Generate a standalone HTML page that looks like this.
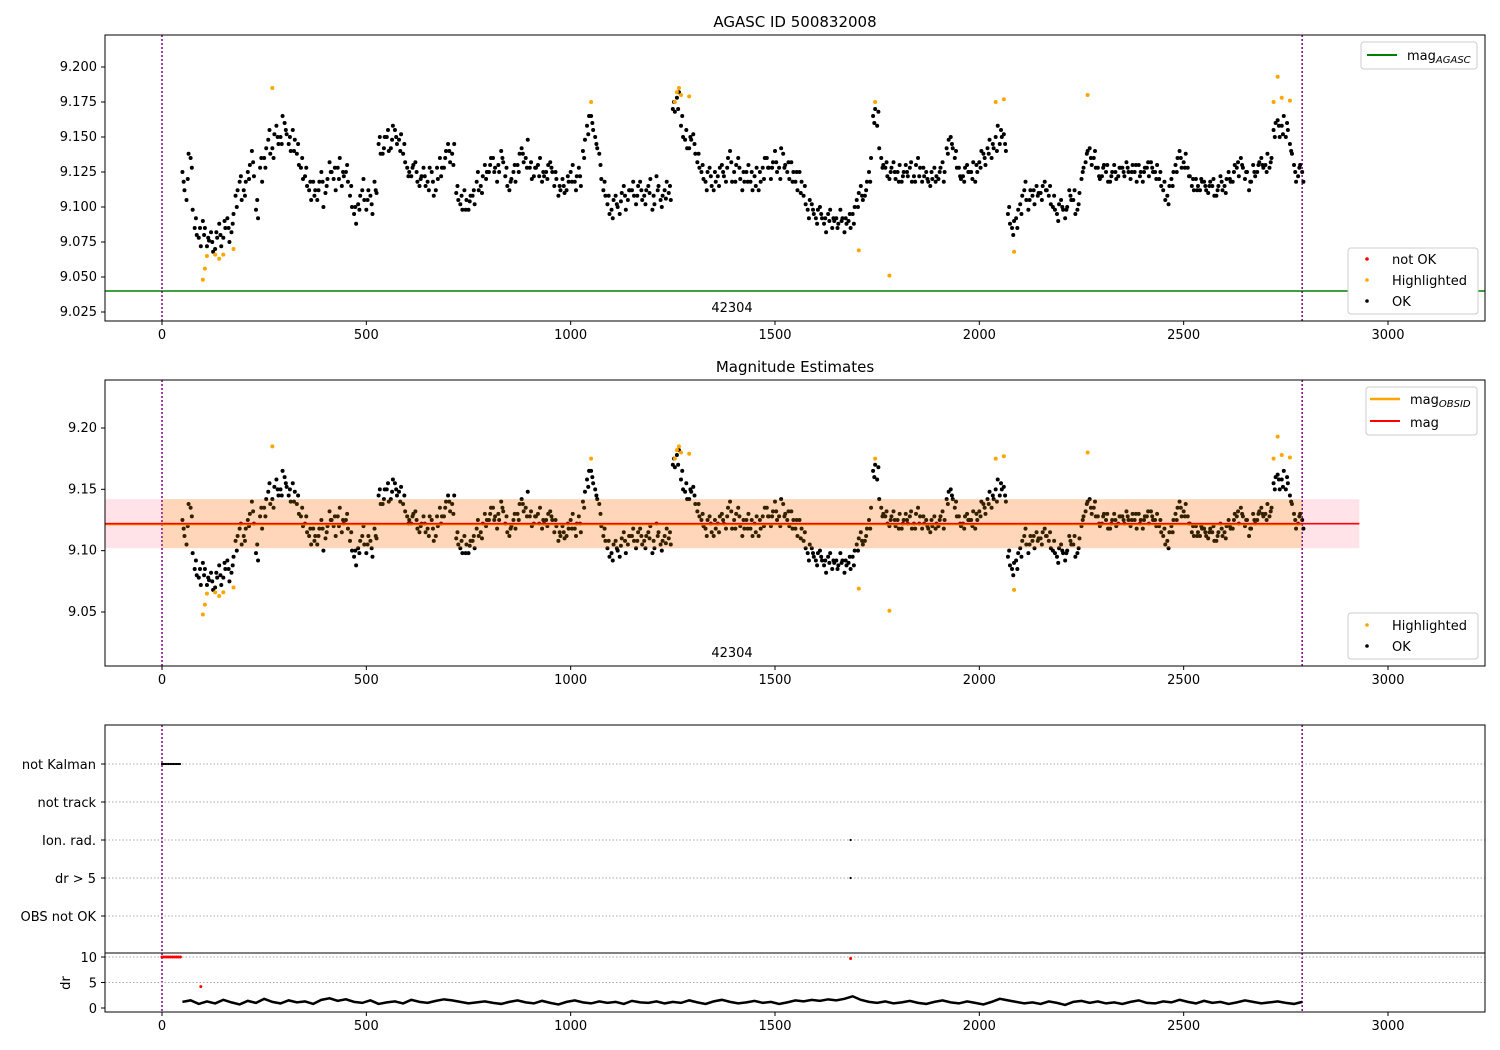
<!DOCTYPE html>
<html><head><meta charset="utf-8"><style>
body{margin:0;background:#fff}
svg{display:block;font-family:"DejaVu Sans","Liberation Sans",sans-serif}
</style></head><body>
<svg id="chart" width="1500" height="1050" xmlns="http://www.w3.org/2000/svg"></svg>
<script>
const startT = 50, stepT = 10;
const magValues = [
9.125,9.105,9.135,9.085,9.078,9.090,9.072,9.082,9.070,9.088,
9.078,9.092,9.082,9.108,9.118,9.112,9.125,9.140,9.098,9.128,
9.135,9.148,9.142,9.158,9.150,9.160,9.145,9.155,9.138,9.128,
9.122,9.112,9.118,9.105,9.125,9.110,9.132,9.120,9.128,9.115,
9.125,9.108,9.095,9.102,9.112,9.098,9.108,9.118,9.145,9.138,
9.150,9.142,9.155,9.148,9.138,9.128,9.122,9.132,9.115,9.128,
9.118,9.125,9.112,9.135,9.128,9.145,9.138,9.110,9.102,9.112,
9.098,9.108,9.118,9.115,9.130,9.125,9.135,9.118,9.140,9.122,
9.112,9.125,9.130,9.142,9.135,9.128,9.122,9.130,9.118,9.125,
9.132,9.115,9.108,9.120,9.112,9.125,9.118,9.128,9.140,9.158,
9.165,9.150,9.138,9.112,9.102,9.098,9.108,9.095,9.115,9.105,
9.112,9.102,9.118,9.108,9.115,9.098,9.122,9.105,9.112,9.110,
9.170,9.178,9.158,9.148,9.142,9.152,9.132,9.125,9.118,9.128,
9.112,9.122,9.130,9.118,9.140,9.125,9.135,9.112,9.125,9.118,
9.122,9.112,9.128,9.135,9.120,9.140,9.128,9.138,9.125,9.132,
9.118,9.125,9.108,9.098,9.102,9.092,9.100,9.088,9.095,9.085,
9.092,9.098,9.082,9.090,9.095,9.105,9.115,9.108,9.125,9.165,
9.158,9.135,9.128,9.120,9.132,9.125,9.118,9.130,9.128,9.122,
9.135,9.118,9.125,9.115,9.128,9.120,9.132,9.142,9.150,9.135,
9.128,9.122,9.130,9.125,9.118,9.132,9.138,9.142,9.135,9.150,
9.145,9.152,9.095,9.085,9.092,9.102,9.112,9.098,9.108,9.115,
9.110,9.118,9.108,9.100,9.095,9.105,9.092,9.112,9.105,9.098,
9.120,9.132,9.142,9.135,9.128,9.122,9.125,9.118,9.130,9.122,
9.128,9.132,9.120,9.125,9.130,9.118,9.128,9.132,9.125,9.120,
9.112,9.108,9.120,9.130,9.140,9.132,9.128,9.115,9.120,9.112,
9.118,9.110,9.115,9.108,9.122,9.115,9.125,9.118,9.128,9.135,
9.120,9.112,9.130,9.125,9.135,9.130,9.128,9.155,9.162,9.158,
9.150,9.145,9.130,9.122,9.125];
const startTB = 55;
const magValuesB = [
9.112,9.138,9.098,9.080,9.072,9.085,9.076,9.068,9.078,9.072,
9.085,9.075,9.095,9.112,9.105,9.118,9.130,9.122,9.092,9.118,
9.142,9.138,9.152,9.145,9.165,9.152,9.140,9.148,9.130,9.120,
9.115,9.105,9.112,9.118,9.100,9.120,9.125,9.112,9.135,9.122,
9.118,9.100,9.088,9.108,9.105,9.112,9.095,9.110,9.138,9.150,
9.140,9.158,9.145,9.152,9.132,9.125,9.130,9.118,9.122,9.115,
9.128,9.108,9.120,9.128,9.140,9.132,9.145,9.105,9.098,9.105,
9.108,9.102,9.112,9.122,9.125,9.135,9.128,9.125,9.132,9.115,
9.120,9.118,9.138,9.132,9.148,9.120,9.128,9.135,9.122,9.130,
9.125,9.120,9.112,9.110,9.118,9.130,9.122,9.115,9.148,9.165,
9.155,9.142,9.120,9.108,9.095,9.105,9.100,9.110,9.098,9.112,
9.108,9.115,9.105,9.112,9.120,9.102,9.115,9.108,9.118,9.105,
9.168,9.182,9.150,9.142,9.148,9.138,9.128,9.120,9.125,9.115,
9.118,9.128,9.122,9.135,9.118,9.130,9.120,9.118,9.130,9.112,
9.128,9.118,9.135,9.128,9.132,9.125,9.142,9.130,9.120,9.125,
9.112,9.118,9.102,9.105,9.095,9.098,9.092,9.082,9.098,9.090,
9.088,9.092,9.088,9.085,9.100,9.110,9.105,9.118,9.135,9.170,
9.142,9.130,9.122,9.128,9.120,9.130,9.125,9.122,9.118,9.130,
9.128,9.122,9.118,9.120,9.122,9.128,9.125,9.148,9.142,9.128,
9.120,9.128,9.125,9.132,9.125,9.140,9.130,9.148,9.142,9.158,
9.150,9.140,9.088,9.090,9.098,9.108,9.105,9.112,9.102,9.110,
9.115,9.112,9.102,9.098,9.102,9.098,9.100,9.105,9.095,9.110,
9.128,9.140,9.130,9.128,9.120,9.130,9.118,9.125,9.120,9.128,
9.122,9.125,9.130,9.118,9.125,9.128,9.122,9.125,9.130,9.115,
9.105,9.115,9.125,9.135,9.128,9.138,9.122,9.112,9.115,9.118,
9.112,9.118,9.108,9.115,9.112,9.120,9.118,9.130,9.122,9.128,
9.125,9.118,9.122,9.132,9.128,9.138,9.135,9.160,9.150,9.165,
9.155,9.138,9.118,9.130];
const magValuesC = [
9.118,9.120,9.128,9.092,9.085,9.080,9.078,9.075,9.082,9.080,
9.090,9.085,9.088,9.100,9.122,9.108,9.120,9.132,9.105,9.135,
9.128,9.155,9.135,9.150,9.145,9.155,9.150,9.140,9.145,9.135,
9.128,9.118,9.108,9.112,9.118,9.115,9.125,9.128,9.120,9.125,
9.130,9.115,9.100,9.098,9.120,9.105,9.102,9.112,9.150,9.142,
9.155,9.148,9.150,9.140,9.145,9.122,9.128,9.125,9.120,9.122,
9.112,9.118,9.128,9.122,9.135,9.140,9.130,9.115,9.108,9.098,
9.104,9.112,9.125,9.110,9.120,9.130,9.125,9.130,9.135,9.128,
9.118,9.130,9.125,9.138,9.128,9.132,9.128,9.122,9.125,9.120,
9.128,9.125,9.115,9.115,9.122,9.118,9.112,9.122,9.135,9.152,
9.160,9.145,9.130,9.118,9.108,9.092,9.102,9.104,9.108,9.112,
9.118,9.108,9.112,9.102,9.110,9.108,9.112,9.100,9.106,9.115,
9.175,9.170,9.165,9.155,9.150,9.145,9.138,9.130,9.112,9.122,
9.125,9.115,9.125,9.128,9.132,9.118,9.128,9.125,9.118,9.125,
9.115,9.125,9.120,9.128,9.128,9.132,9.120,9.128,9.132,9.118,
9.125,9.110,9.115,9.092,9.098,9.088,9.095,9.092,9.090,9.092,
9.085,9.090,9.092,9.095,9.088,9.100,9.108,9.112,9.118,9.160,
9.168,9.128,9.132,9.125,9.125,9.118,9.122,9.125,9.132,9.118,
9.122,9.128,9.120,9.125,9.118,9.125,9.118,9.138,9.145,9.140,
9.122,9.118,9.125,9.120,9.130,9.128,9.135,9.138,9.145,9.140,
9.155,9.145,9.100,9.080,9.085,9.095,9.118,9.105,9.112,9.108,
9.105,9.112,9.115,9.108,9.090,9.100,9.098,9.108,9.112,9.102,
9.125,9.138,9.135,9.140,9.122,9.128,9.130,9.122,9.125,9.128,
9.125,9.128,9.125,9.130,9.122,9.125,9.132,9.128,9.120,9.125,
9.118,9.102,9.115,9.125,9.135,9.128,9.122,9.120,9.112,9.120,
9.115,9.115,9.120,9.112,9.118,9.110,9.120,9.125,9.132,9.130,
9.125,9.118,9.125,9.130,9.130,9.125,9.132,9.150,9.158,9.152,
9.160,9.140,9.125,9.128,9.118];
const hlTimes = [100,105,110,130,140,150,175,270,1050,1255,1260,1265,1270,1290,1705,1745,1780,2040,2060,2085,2265,2720,2730,2740,2760];
const hlMags = [9.048,9.056,9.065,9.066,9.063,9.066,9.070,9.185,9.175,9.175,9.182,9.185,9.180,9.179,9.069,9.175,9.051,9.175,9.177,9.068,9.180,9.175,9.193,9.178,9.176];
const drStart = 50, drStep = 20;
const drValues = [1.2,1.5,0.8,1.3,0.9,1.6,1.1,0.7,1.4,1.0,1.8,1.2,0.9,1.5,1.1,1.3,0.8,1.6,1.9,1.4,1.7,1.2,1.0,1.5,0.8,1.1,1.3,0.9,1.6,1.2,1.0,1.4,1.7,1.5,1.2,0.9,1.1,1.3,1.0,0.8,1.2,1.5,1.1,0.9,1.4,1.0,0.7,1.2,1.5,1.1,0.9,1.3,1.0,1.2,0.8,1.4,1.1,1.0,1.3,0.9,1.2,1.0,1.5,1.1,0.8,1.3,1.6,1.2,0.9,1.1,1.4,1.0,1.2,0.8,1.1,1.5,1.3,1.6,1.4,1.7,1.5,1.8,2.3,1.6,1.2,1.0,1.3,0.9,1.1,1.4,1.0,0.8,1.2,1.5,1.1,0.9,1.3,1.0,0.7,1.2,1.8,1.5,1.2,0.9,1.1,0.8,1.3,1.0,0.6,1.2,1.4,1.0,1.3,0.9,1.1,0.8,1.2,1.5,1.0,0.9,1.3,1.1,1.6,1.2,0.9,1.4,1.0,1.2,0.8,1.1,1.5,1.2,0.9,1.1,1.3,1.0,0.8,1.2];
const drRedTimes = [0,5,10,15,20,25,30,35,40,45,95,1685];
const drRedValues = [10,10,10,10,10,10,10,10,10,10,4.2,9.7];
const flagCategories = ["not Kalman","not track","Ion. rad.","dr > 5","OBS not OK"];
const flagTimes = [0,4,8,12,16,20,24,28,32,36,40,44,1685,1685];
const flagIndex = [0,0,0,0,0,0,0,0,0,0,0,0,2,3];
const xTicks = [0,500,1000,1500,2000,2500,3000];
const y1Ticks = [9.025,9.05,9.075,9.1,9.125,9.15,9.175,9.2];
const y2Ticks = [9.05,9.1,9.15,9.2];
const drTicks = [0,5,10];
const agascMag = 9.04, meanMag = 9.122, magLo = 9.102, magHi = 9.142, obsEnd = 2790, bandEnd = 2930;

const NS="http://www.w3.org/2000/svg", svg=document.getElementById('chart');
function mk(tag,attrs,parent){const e=document.createElementNS(NS,tag);for(const k in attrs)e.setAttribute(k,attrs[k]);(parent||svg).appendChild(e);return e;}
const L=105,R=1485;
const xs=t=>162+t*(1226/3000);
const y1=m=>67+(9.2-m)*1400;
const y2=m=>428+(9.2-m)*(61.33/0.05);
const yd=v=>1008-v*5.1;
const yf=i=>764+i*38;
const txt=(x,y,s,anchor,size,parent)=>{const e=mk('text',{x:x,y:y,'text-anchor':anchor||'middle','font-size':size||13,fill:'#000'},parent);e.textContent=s;return e;};

function xAxis(top,bottom,label){
  xTicks.forEach(t=>{const g=mk('g',{});
    
    mk('line',{x1:xs(t),x2:xs(t),y1:bottom,y2:bottom+4,stroke:'#000'},g);
    if(label)txt(xs(t),bottom+18,String(t),'middle',13,g);});
}
function frame(top,bottom,name){const r=mk('rect',{x:L,y:top,width:R-L,height:bottom-top,fill:'none',stroke:'#000','stroke-width':1});
  }
function vlines(top,bottom){[0,obsEnd].forEach(t=>{const l=mk('line',{x1:xs(t),x2:xs(t),y1:top,y2:bottom,stroke:'#800080','stroke-width':1.5,'stroke-dasharray':'2,2'});
  });}
function dots(ts,ms,yfun,color,r,name){const g=mk('g',{fill:color});
  ts.forEach((t,i)=>mk('circle',{cx:xs(t),cy:yfun(ms[i]),r:r},g));}
const magTimes=magValues.map((v,i)=>startT+i*stepT);
const magTimesB=magValuesB.map((v,i)=>startTB+i*stepT);
const magTimesC=magValuesC.map((v,i)=>startT+3+i*stepT);
function okSeries(yfun,suffix){
  dots(magTimes,magValues,yfun,'#000',2,'ok-points'+suffix);
  dots(magTimesB,magValuesB,yfun,'#000',2,'ok-points-b'+suffix);
  dots(magTimesC,magValuesC,yfun,'#000',2,'ok-points-c'+suffix);
}

// Panel 1
txt(795,27,'AGASC ID 500832008','middle',15);
const gl=mk('line',{x1:L,x2:R,y1:y1(agascMag),y2:y1(agascMag),stroke:'green','stroke-width':1.5});

vlines(35,321);
okSeries(y1,'');
dots(hlTimes,hlMags,y1,'orange',2,'highlighted-points');
frame(35,321,'agasc-axes');
y1Ticks.forEach(v=>{mk('line',{x1:L-4,x2:L,y1:y1(v),y2:y1(v),stroke:'#000'});txt(L-8,y1(v)+4,v.toFixed(3),'end');});
xAxis(35,321,true);
txt(732,312,'42304');
let lg=mk('g',{});
mk('rect',{x:1361,y:42,width:116,height:27,rx:3,fill:'#fff',stroke:'#ccc'},lg);
mk('line',{x1:1367,x2:1397,y1:55,y2:55,stroke:'green','stroke-width':2},lg);
let t=txt(1407,60,'mag','start',13,lg);let ts=mk('tspan',{'font-size':10,'font-style':'italic',dy:3},t);ts.textContent='AGASC';t.appendChild(ts);
lg=mk('g',{});
mk('rect',{x:1348,y:248,width:130,height:66,rx:3,fill:'#fff',stroke:'#ccc'},lg);
[['not OK','red'],['Highlighted','orange'],['OK','#000']].forEach((e,i)=>{mk('circle',{cx:1367,cy:259+i*21,r:1.8,fill:e[1]},lg);txt(1392,264+i*21,e[0],'start',13,lg);});

// Panel 2
txt(795,372,'Magnitude Estimates','middle',15);
const band=mk('rect',{x:L,y:y2(magHi),width:xs(bandEnd)-L,height:y2(magLo)-y2(magHi),fill:'#ffc0cb',opacity:0.45});

vlines(380,666);
okSeries(y2,'-2');
dots(hlTimes,hlMags,y2,'orange',2,'highlighted-points-2');
const band2=mk('rect',{x:xs(0),y:y2(magHi),width:xs(obsEnd)-xs(0),height:y2(magLo)-y2(magHi),fill:'#ffa500',opacity:0.2});

const ol=mk('line',{x1:L,x2:xs(obsEnd),y1:y2(meanMag)+0.5,y2:y2(meanMag)+0.5,stroke:'orange','stroke-width':2.5});

const ml=mk('line',{x1:L,x2:xs(bandEnd),y1:y2(meanMag),y2:y2(meanMag),stroke:'red','stroke-width':1.6});

frame(380,666,'magnitude-axes');
y2Ticks.forEach(v=>{mk('line',{x1:L-4,x2:L,y1:y2(v),y2:y2(v),stroke:'#000'});txt(L-8,y2(v)+4,v.toFixed(2),'end');});
xAxis(380,666,true);
txt(732,657,'42304');
lg=mk('g',{});
mk('rect',{x:1366,y:387,width:111,height:48,rx:3,fill:'#fff',stroke:'#ccc'},lg);
mk('line',{x1:1370,x2:1400,y1:399,y2:399,stroke:'orange','stroke-width':2.5},lg);
t=txt(1410,404,'mag','start',13,lg);ts=mk('tspan',{'font-size':10,'font-style':'italic',dy:3},t);ts.textContent='OBSID';t.appendChild(ts);
mk('line',{x1:1370,x2:1400,y1:421,y2:421,stroke:'red','stroke-width':2},lg);txt(1410,427,'mag','start',13,lg);
lg=mk('g',{});
mk('rect',{x:1348,y:613,width:130,height:46,rx:3,fill:'#fff',stroke:'#ccc'},lg);
[['Highlighted','orange'],['OK','#000']].forEach((e,i)=>{mk('circle',{cx:1367,cy:625+i*21,r:1.8,fill:e[1]},lg);txt(1392,630+i*21,e[0],'start',13,lg);});

// Panel 3 flags
flagCategories.forEach((c,i)=>{mk('line',{x1:L,x2:R,y1:yf(i),y2:yf(i),stroke:'#aaa','stroke-dasharray':'1.5,2'});
  mk('line',{x1:L-4,x2:L,y1:yf(i),y2:yf(i),stroke:'#000'});
  const e=txt(L-9,yf(i)+5,c,'end');});
vlines(725,1012);
const gf=mk('g',{fill:'#000'});
flagTimes.forEach((tt,i)=>mk('circle',{cx:xs(tt),cy:yf(flagIndex[i]),r:1.1},gf));
frame(725,953,'flags-axes');
// Panel 4 dr
[5,10].forEach(v=>mk('line',{x1:L,x2:R,y1:yd(v),y2:yd(v),stroke:'#aaa','stroke-dasharray':'1.5,2'}));
const gd=mk('g',{fill:'#000'});
const drTimes=drValues.map((v,i)=>drStart+i*drStep);
mk('polyline',{points:drTimes.map((tt,i)=>xs(tt)+','+yd(drValues[i])).join(' '),fill:'none',stroke:'#000','stroke-width':2.5},gd);
dots(drRedTimes,drRedValues,yd,'red',1.5,'dr-red-points');
frame(953,1012,'dr-axes');
drTicks.forEach(v=>{mk('line',{x1:L-4,x2:L,y1:yd(v),y2:yd(v),stroke:'#000'});txt(L-8,yd(v)+5,String(v),'end');});
const dl=mk('text',{x:70,y:983,'text-anchor':'middle','font-size':13,transform:'rotate(-90 70 983)'});dl.textContent='dr';

xAxis(953,1012,true);
</script>
</body></html>
